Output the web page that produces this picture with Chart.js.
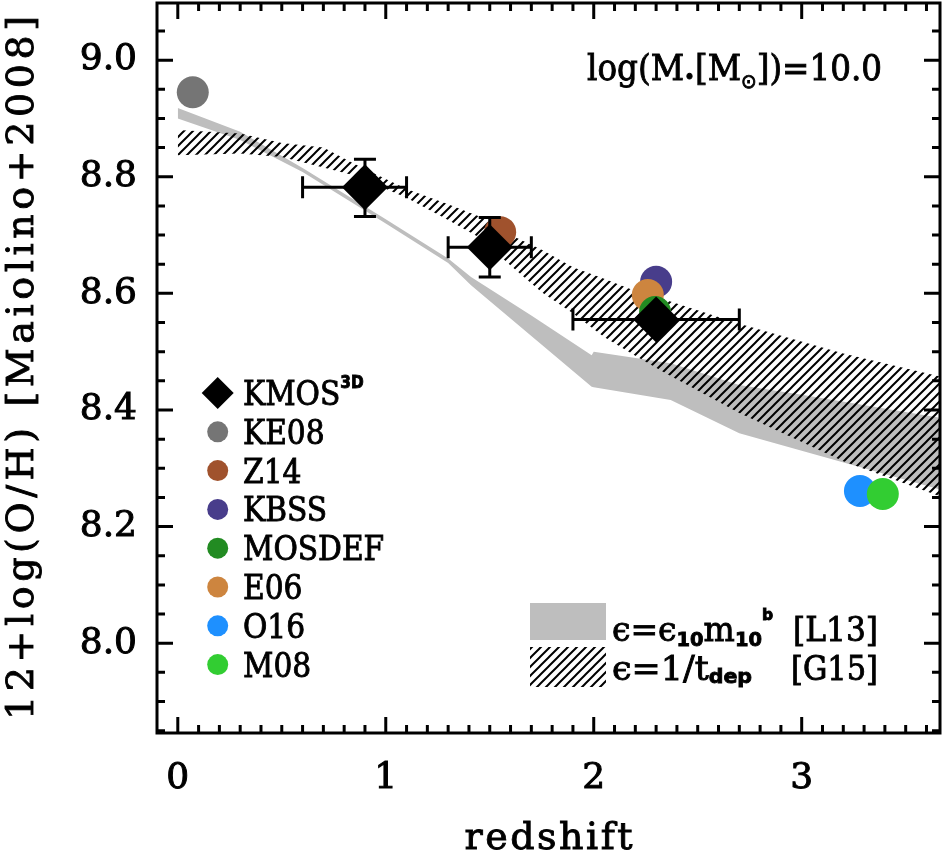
<!DOCTYPE html>
<html><head><meta charset="utf-8">
<script src="https://cdn.jsdelivr.net/npm/chart.js@4.4.1/dist/chart.umd.min.js"></script>
<style>html,body{margin:0;padding:0;background:#fff}#wrap{width:948px;height:853px}</style>
</head><body><div id="wrap"><canvas id="c" width="948" height="853"></canvas></div>
<script>
// ---------- data ----------
const xMin = -0.1, xMax = 3.665, yMin = 7.846, yMax = 9.098;
const xTickVals = [0, 1, 2, 3];
const xTickLabels = ['0', '1', '2', '3'];
const yTickVals = [8.0, 8.2, 8.4, 8.6, 8.8, 9.0];
const yTickLabels = ['8.0', '8.2', '8.4', '8.6', '8.8', '9.0'];

// L13 model band (grey)
const l13Z   = [0.0,   0.3,   0.6,   1.0,   1.3,   1.41,  1.7,   1.99,  2.0,   2.37,  2.7,   3.0,   3.68];
const l13Top = [8.918, 8.877, 8.815, 8.727, 8.660, 8.628, 8.562, 8.494, 8.500, 8.480, 8.443, 8.426, 8.386];
const l13Bot = [8.900, 8.863, 8.808, 8.720, 8.652, 8.614, 8.527, 8.440, 8.439, 8.417, 8.360, 8.330, 8.262];

// G15 model band (hatched)
const g15Z   = [0.0,   0.3,   0.5,   0.7,   0.85,  1.1,   1.3,   1.45,  1.6,   1.75,  1.9,   2.05,  2.2,   2.35,  2.7,   3.2,   3.68];
const g15Top = [8.880, 8.874, 8.858, 8.850, 8.822, 8.779, 8.753, 8.732, 8.700, 8.675, 8.645, 8.625, 8.604, 8.588, 8.548, 8.497, 8.456];
const g15Bot = [8.837, 8.840, 8.834, 8.816, 8.802, 8.764, 8.726, 8.696, 8.648, 8.602, 8.566, 8.525, 8.493, 8.462, 8.395, 8.312, 8.250];

// KMOS3D stacks with error bars
const kmosZ    = [0.9, 1.5, 2.3];
const kmosOH   = [8.782, 8.679, 8.555];
const kmosZlo  = [0.6, 1.3, 1.9];
const kmosZhi  = [1.1, 1.7, 2.7];
const kmosOHlo = [8.732, 8.628, null];
const kmosOHhi = [8.830, 8.730, null];

// literature points
const ke08Z = [0.072], ke08OH = [8.945];
const z14Z = [1.55], z14OH = [8.705];
const kbssZ = [2.30], kbssOH = [8.620];
const e06Z = [2.26], e06OH = [8.597];
const mosdefZ = [2.295], mosdefOH = [8.568];
const o16Z = [3.28], o16OH = [8.261];
const m08Z = [3.39], m08OH = [8.256];

const seriesNames = ['KMOS', 'KE08', 'Z14', 'KBSS', 'MOSDEF', 'E06', 'O16', 'M08'];
const bandNames = ['L13', 'G15'];
const annotationText = ['log(M', '\u2022', '[M', '\u2299', '])=10.0'];
const xTitle = 'redshift';
const yTitle = '12+log(O/H) [Maiolino+2008]';

// ---------- styles ----------
const SERIF = "'DejaVu Serif', 'Liberation Serif', serif";
const SANSB = "bold {s}px 'DejaVu Sans', sans-serif";
const sb = s => SANSB.replace('{s}', s);
const COL = {KE08:'#757575', Z14:'#a0522d', KBSS:'#483d8b', MOSDEF:'#228b22', E06:'#cd853f', O16:'#1e90ff', M08:'#32cd32', band:'#bebebe'};

function makeHatch(){
  const s = 9, c = document.createElement('canvas'); c.width = s; c.height = s;
  const g = c.getContext('2d');
  g.strokeStyle = '#000'; g.lineWidth = 2;
  g.beginPath();
  g.moveTo(-1, s + 1); g.lineTo(s + 1, -1);
  g.moveTo(-3, 3); g.lineTo(3, -3);
  g.moveTo(s - 3, s + 3); g.lineTo(s + 3, s - 3);
  g.stroke();
  return g.createPattern(c, 'repeat');
}
const HATCH = makeHatch();

const pts = (xs, ys) => xs.map((x, i) => ({x: x, y: ys[i]}));

function bandDs(label, xs, ys, fill, bg, order){
  return {type:'line', label:label, data:pts(xs, ys), borderWidth:0, borderColor:'rgba(0,0,0,0)',
          pointRadius:0, pointHoverRadius:0, fill:fill, backgroundColor:bg, order:order, tension:0};
}
function dotDs(label, xs, ys, color, order){
  return {type:'scatter', label:label, data:pts(xs, ys), pointStyle:'circle', pointRadius:16, pointHoverRadius:16,
          backgroundColor:color, borderWidth:0, order:order, inLegend:true};
}

const datasets = [
  bandDs(bandNames[0] + ' top', l13Z, l13Top, '+1', COL.band, 100),
  bandDs(bandNames[0] + ' bottom', l13Z, l13Bot, false, 'rgba(0,0,0,0)', 101),
  bandDs(bandNames[1] + ' top', g15Z, g15Top, '+1', HATCH, 90),
  bandDs(bandNames[1] + ' bottom', g15Z, g15Bot, false, 'rgba(0,0,0,0)', 91),
  dotDs(seriesNames[1], ke08Z, ke08OH, COL.KE08, 50),
  dotDs(seriesNames[2], z14Z, z14OH, COL.Z14, 50),
  dotDs(seriesNames[3], kbssZ, kbssOH, COL.KBSS, 40),
  dotDs(seriesNames[4], mosdefZ, mosdefOH, COL.MOSDEF, 30),
  dotDs(seriesNames[5], e06Z, e06OH, COL.E06, 35),
  dotDs(seriesNames[6], o16Z, o16OH, COL.O16, 40),
  dotDs(seriesNames[7], m08Z, m08OH, COL.M08, 30),
  {type:'scatter', label:seriesNames[0], data:pts(kmosZ, kmosOH), pointStyle:'rectRot', pointRadius:23, pointHoverRadius:23,
   backgroundColor:'#000', borderWidth:0, order:0, inLegend:true, isKmos:true}
];

// ---------- text helper ----------
function drawRuns(ctx, runs, x, y, opt){
  opt = opt || {};
  ctx.save();
  ctx.textBaseline = 'alphabetic'; ctx.textAlign = 'left'; ctx.fillStyle = '#000';
  const hasLS = ('letterSpacing' in ctx);
  let nat = 0, nch = 0;
  const ws = runs.map(r => { ctx.font = r.f; if (hasLS) ctx.letterSpacing = '0px';
    const w = ctx.measureText(r.t).width; nat += w; nch += [...r.t].length; return w; });
  let sx = opt.sx || 1, ls = 0;
  if (opt.width){
    if (opt.mode === 'space' && hasLS && nch > 1) ls = (opt.width - nat) / (nch - 1);
    else sx = opt.width / nat;
  }
  const total = opt.width || nat * sx;
  const x0 = opt.align === 'right' ? x - total : opt.align === 'center' ? x - total / 2 : x;
  ctx.translate(x0, y); ctx.scale(sx, 1);
  let cx = 0;
  runs.forEach((r, i) => { ctx.font = r.f; if (hasLS) ctx.letterSpacing = ls + 'px';
    ctx.fillText(r.t, cx, r.dy || 0);
    if (opt.bold){ ctx.lineWidth = opt.bold; ctx.strokeStyle = '#000'; ctx.strokeText(r.t, cx, r.dy || 0); }
    cx += ws[i] + [...r.t].length * ls; });
  ctx.restore();
}

function zeroPad(s){ s.paddingTop = 0; s.paddingBottom = 0; s.paddingLeft = 0; s.paddingRight = 0; }

// ---------- decorations plugin ----------
const decor = {
  id:'decor',
  afterDatasetsDraw(chart){
    const ctx = chart.ctx, a = chart.chartArea, xs = chart.scales.x, ys = chart.scales.y;
    ctx.save();
    ctx.strokeStyle = '#000'; ctx.lineWidth = 3; ctx.lineCap = 'butt';
    // error bars of KMOS3D
    const cap = 11;
    ctx.beginPath();
    kmosZ.forEach((z, i) => {
      const px = xs.getPixelForValue(z), py = ys.getPixelForValue(kmosOH[i]);
      const l = xs.getPixelForValue(kmosZlo[i]), r = xs.getPixelForValue(kmosZhi[i]);
      ctx.moveTo(l, py); ctx.lineTo(r, py);
      ctx.moveTo(l, py - cap); ctx.lineTo(l, py + cap);
      ctx.moveTo(r, py - cap); ctx.lineTo(r, py + cap);
      if (kmosOHlo[i] !== null){
        const t = ys.getPixelForValue(kmosOHhi[i]), b = ys.getPixelForValue(kmosOHlo[i]);
        ctx.moveTo(px, t); ctx.lineTo(px, b);
        ctx.moveTo(px - cap, t); ctx.lineTo(px + cap, t);
        ctx.moveTo(px - cap, b); ctx.lineTo(px + cap, b);
      }
    });
    ctx.stroke();
    // frame
    ctx.strokeRect(a.left, a.top, a.right - a.left, a.bottom - a.top);
    // inward ticks
    ctx.beginPath();
    for (let k = -1; k <= 37; k++){
      const v = k / 10; if (v <= xMin + 1e-6 || v >= xMax - 1e-6) continue;
      const px = xs.getPixelForValue(v), L = (k % 10 === 0) ? 16 : 8;
      ctx.moveTo(px, a.bottom); ctx.lineTo(px, a.bottom - L);
      ctx.moveTo(px, a.top); ctx.lineTo(px, a.top + L);
    }
    for (let k = 157; k <= 182; k++){
      const v = k / 20; if (v <= yMin + 1e-6 || v >= yMax - 1e-6) continue;
      const py = ys.getPixelForValue(v), L = (k % 4 === 0) ? 16 : 8;
      ctx.moveTo(a.left, py); ctx.lineTo(a.left + L, py);
      ctx.moveTo(a.right, py); ctx.lineTo(a.right - L, py);
    }
    ctx.stroke();
    ctx.restore();

    // axis titles
    ctx.save();
    ctx.translate(33, (a.top + a.bottom) / 2); ctx.rotate(-Math.PI / 2);
    drawRuns(ctx, [{t:yTitle, f:'38px ' + SERIF}], 0, 0, {width:704, align:'center', mode:'space', bold:0.9});
    ctx.restore();
    drawRuns(ctx, [{t:xTitle, f:'38px ' + SERIF}], (a.left + a.right) / 2, 849, {width:168, align:'center', mode:'space', bold:0.9});

    // annotation
    drawRuns(ctx, [
      {t:annotationText[0], f:'35px ' + SERIF},
      {t:annotationText[1], f:"20px 'DejaVu Sans', sans-serif", dy:3},
      {t:annotationText[2], f:'35px ' + SERIF},
      {t:annotationText[3], f:"20px 'DejaVu Sans', sans-serif", dy:8},
      {t:annotationText[4], f:'35px ' + SERIF}
    ], 587, 80, {width:295, bold:0.9});

    // point legend
    const items = chart.data.datasets.filter(d => d.inLegend);
    ctx.save();
    seriesNames.forEach((name, i) => {
      const d = items.find(it => it.label === name); if (!d) return;
      const cy = 393 + i * 38.8, cx = 217.7;
      ctx.fillStyle = d.backgroundColor;
      ctx.beginPath();
      if (d.isKmos){ ctx.moveTo(cx - 16, cy); ctx.lineTo(cx, cy - 16); ctx.lineTo(cx + 16, cy); ctx.lineTo(cx, cy + 16); ctx.closePath(); }
      else ctx.arc(cx, cy, 10.5, 0, Math.PI * 2);
      ctx.fill();
      const runs = [{t:name, f:'33px ' + SERIF}];
      if (d.isKmos) runs.push({t:'3D', f:sb(17), dy:-17});
      drawRuns(ctx, runs, 243, cy + 12, {sx:0.9, bold:0.9});
    });
    ctx.restore();

    // band legend
    ctx.save();
    ctx.fillStyle = COL.band; ctx.fillRect(530, 603, 76, 37);
    ctx.fillStyle = HATCH; ctx.fillRect(530, 647, 76, 40);
    ctx.restore();
    drawRuns(ctx, [
      {t:'\u03f5=\u03f5', f:'34px ' + SERIF},
      {t:'10', f:sb(20), dy:5},
      {t:'m', f:'34px ' + SERIF},
      {t:'10', f:sb(20), dy:5},
      {t:'b', f:sb(16), dy:-21}
    ], 612, 641, {width:161, bold:0.9});
    drawRuns(ctx, [{t:'[' + bandNames[0] + ']', f:'34px ' + SERIF}], 878, 641, {width:85, align:'right', bold:0.9});
    drawRuns(ctx, [
      {t:'\u03f5=1/t', f:'34px ' + SERIF},
      {t:'dep', f:sb(20), dy:3}
    ], 612, 680, {width:140, bold:0.9});
    drawRuns(ctx, [{t:'[' + bandNames[1] + ']', f:'34px ' + SERIF}], 878, 680, {width:87, align:'right', bold:0.9});
  }
};

new Chart(document.getElementById('c'), {
  type:'scatter',
  data:{datasets:datasets},
  options:{
    responsive:false, animation:false, events:[],
    layout:{autoPadding:false, padding:{top:3, right:8, left:0, bottom:0}},
    plugins:{legend:{display:false}, tooltip:{enabled:false}, filler:{propagate:false}},
    scales:{
      x:{type:'linear', min:xMin, max:xMax,
         afterFit(s){ s.height = 120; zeroPad(s); },
         afterBuildTicks(s){ s.ticks = xTickVals.map(v => ({value:v})); },
         ticks:{callback:(v, i) => xTickLabels[i], font:{family:SERIF, size:36}, color:'#000', padding:24, maxRotation:0, autoSkip:false,
                textStrokeColor:'#000', textStrokeWidth:1},
         grid:{display:false, drawTicks:false}, border:{display:false}},
      y:{type:'linear', min:yMin, max:yMax,
         afterFit(s){ s.width = 157; zeroPad(s); },
         afterBuildTicks(s){ s.ticks = yTickVals.map(v => ({value:v})); },
         ticks:{callback:(v, i) => yTickLabels[i], font:{family:SERIF, size:36}, color:'#000', padding:20, autoSkip:false,
                textStrokeColor:'#000', textStrokeWidth:1},
         grid:{display:false, drawTicks:false}, border:{display:false}}
    }
  },
  plugins:[decor]
});
</script>
</body></html>
